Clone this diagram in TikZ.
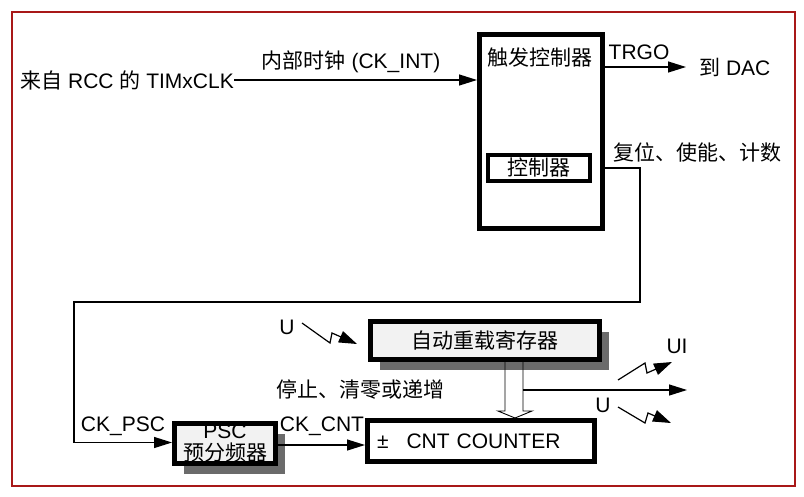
\documentclass[tikz,border=0pt]{standalone}
\usepackage{fontspec}
\setmainfont{Liberation Sans}
\newfontfamily\cjk{Noto Sans CJK SC}
\usepackage{xcolor}
\usetikzlibrary{arrows.meta,positioning,calc,shadows}
\definecolor{frame}{RGB}{168,24,24}

\begin{document}
\begin{tikzpicture}[x=1pt, y=-1pt,
    every node/.style={font=\fontsize{21}{22}\selectfont, inner sep=0pt},
    box/.style={rectangle, draw=black, line width=5pt, fill=white},
    reg/.style={rectangle, draw=black, line width=5pt, fill=black!5, drop shadow={shadow xshift=9pt, shadow yshift=-10pt, fill=black!58, opacity=1}},
    line/.style={draw, line width=1.3pt, -{Triangle[length=18pt, width=11pt]}},
    zap/.style={draw, line width=1.2pt, -{Triangle[length=18pt, width=12pt]}}]

    \useasboundingbox (0,0) rectangle (804,496);
    \draw[frame, line width=1.6pt] (12,12) rectangle (795,486);

    \node [box, minimum width=123pt, minimum height=194pt] (trig) at (541,131.5) {};
    \node (trigtxt) at (540,58) {\cjk 触发控制器};
    \node [box, line width=4pt, minimum width=102pt, minimum height=26pt] (ctrl) at (539,168) {\cjk 控制器};
    \node [anchor=east] (src) at (234,80) {{\cjk 来自} RCC {\cjk 的} TIMxCLK};
    \node (ckint) at (351,62) {{\cjk 内部时钟} (CK\_INT)};
    \node (trgo) at (639,52) {TRGO};
    \node [anchor=west] (dac) at (699,67) {{\cjk 到} DAC};
    \node (rst) at (697,152) {\cjk 复位、使能、计数};

    \node [reg, minimum width=229pt, minimum height=38pt] (reload) at (485,340.5) {\cjk 自动重载寄存器};
    \node [reg, minimum width=101pt, minimum height=40pt, align=center] (psc) at (225,443.5) {PSC\\{\cjk 预分频器}};
    \node [box, minimum width=227pt, minimum height=41pt, text width=208pt, align=left] (cnt) at (481,441) {±\hspace{18pt}CNT COUNTER};
    \node (ckpsc) at (123,426) {CK\_PSC};
    \node (ckcnt) at (322,426) {CK\_CNT};
    \node (stop) at (360,390) {\cjk 停止、清零或递增};
    \node (ureg) at (287,327) {U};
    \node (uup) at (677,346) {UI};
    \node (udn) at (603,405) {U};

    \coordinate (cnti) at ([yshift=-4pt]cnt.west);
    \coordinate (tap) at (523,390);
    \coordinate (out) at (687,390);

    \path [line] (src.east) -- (src.east -| trig.west);
    \path [line, shorten >=13pt] (trig.east |- dac.west) -- (dac.west);
    \path [line] (trig.east |- ctrl) -| (640,302) -| (74,442.5) -- (74,442.5 -| psc.west);
    \path [line] (psc.east |- cnti) -- (cnti);
    \fill [white] (505,372) -- (505,411) -- (498,411) -- (515,418) -- (532,411) -- (523,411) -- (523,372) -- cycle;
    \draw [line width=0.9pt] (505,362) -- (505,411) -- (498,411) -- (515,418) -- (532,411) -- (523,411) -- (523,362);
    \path [line] (tap) -- (out);

    \path [zap] (302,323) -- (330,343) -- (332,333) -- (357,344);
    \path [zap] (618,380) -- (645,363) -- (647,373) -- (672,362);
    \path [zap] (618,407) -- (645,423) -- (648,413) -- (671,423);
\end{tikzpicture}
\end{document}
